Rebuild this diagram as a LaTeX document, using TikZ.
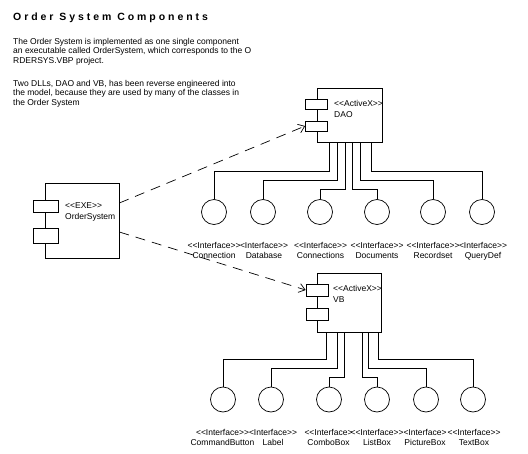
\documentclass[tikz,border=0pt]{standalone}
\usepackage{fontspec}
\setmainfont{Liberation Sans}
\newfontfamily\titlefont{Liberation Sans}[LetterSpace=28]
\usetikzlibrary{arrows.meta}

\begin{document}
\begin{tikzpicture}[x=1pt,y=-1pt,
    every node/.style={font=\fontsize{8.5}{10}\selectfont, inner sep=0pt},
    comp/.style={draw, line width=.7pt},
    port/.style={draw, fill=white, line width=.7pt, minimum width=22pt, minimum height=10pt},
    iface/.style={draw, circle, line width=.7pt, minimum size=25pt},
    lbl/.style={align=center, anchor=north},
    wire/.style={line width=.7pt},
    dep/.style={line width=.7pt, dash pattern=on 10pt off 7pt, -{Straight Barb[length=6pt,width=9pt]}}]
   %\draw[help lines] (0,0) grid (528,453);
    \useasboundingbox (0,0) rectangle (528,453);
    \node[anchor=base west, font=\titlefont\bfseries\fontsize{10.5}{12}\selectfont] (title) at (13,20) {Order System Components};
    \node[anchor=north west, align=left, font=\fontsize{8.5}{9.5}\selectfont] (note1) at (13,38)
      {The Order System is implemented as one single component\\an executable called OrderSystem, which corresponds to the O\\RDERSYS.VBP project.};
    \node[anchor=north west, align=left, font=\fontsize{8.5}{9.5}\selectfont] (note2) at (13,80)
      {Two DLLs, DAO and VB, has been reverse engineered into\\the model, because they are used by many of the classes in\\the Order System};

    % components
    \node[comp, minimum width=74pt, minimum height=75pt] (exe) at (82,220.5) {};
    \node[port, minimum width=25pt, minimum height=12pt] (exe-p1) at (45.5,206) {};
    \node[port, minimum width=25pt, minimum height=15pt] (exe-p2) at (45.5,235.5) {};
    \node[anchor=north west, align=left, font=\fontsize{8.5}{11}\selectfont] (exe-txt) at (65,202) {<{}<EXE>{}>\\OrderSystem};

    \node[comp, minimum width=65pt, minimum height=54pt] (dao) at (349.5,115) {};
    \node[port] (dao-p1) at (316.5,104.3) {};
    \node[port] (dao-p2) at (316.5,126) {};
    \node[anchor=north west, align=left, font=\fontsize{8.5}{11}\selectfont] (dao-txt) at (334,100) {<{}<ActiveX>{}>\\DAO};

    \node[comp, minimum width=64pt, minimum height=59pt] (vb) at (349,302.5) {};
    \node[port, minimum height=12pt] (vb-p1) at (317,290) {};
    \node[port, minimum height=12pt] (vb-p2) at (317,314) {};
    \node[anchor=north west, align=left, font=\fontsize{8.5}{11}\selectfont] (vb-txt) at (333,285) {<{}<ActiveX>{}>\\VB};

    \draw[dep] ([yshift=17.5pt]exe.east) -- (dao-p2.west);
    \draw[dep] ([yshift=-11.5pt]exe.east) -- (vb-p1.west);

    % DAO interfaces
    \node[iface] (connection) at (214,212) {};
    \node[iface] (database) at (263,212) {};
    \node[iface] (connections) at (320,212) {};
    \node[iface] (documents) at (377,212) {};
    \node[iface] (recordset) at (433,212) {};
    \node[iface] (querydef) at (482,212) {};
    \draw[wire] ([xshift=-20.5pt]dao.south) -- ++(0,29) -| (connection.north);
    \draw[wire] ([xshift=-12.5pt]dao.south) -- ++(0,38) -| (database.north);
    \draw[wire] ([xshift=-4.5pt]dao.south) -- ++(0,47) -| (connections.north);
    \draw[wire] ([xshift=2.5pt]dao.south) -- ++(0,47) -| (documents.north);
    \draw[wire] ([xshift=10.5pt]dao.south) -- ++(0,38) -| (recordset.north);
    \draw[wire] ([xshift=21.5pt]dao.south) -- ++(0,29) -| (querydef.north);
    \node[lbl] (connection-l) at (214,242) {<{}<Interface>{}>\\Connection};
    \node[lbl] (database-l) at (264,242) {<Interface>{}>\\Database};
    \node[lbl] (connections-l) at (320.5,242) {<{}<Interface>{}>\\Connections};
    \node[lbl] (documents-l) at (377,242) {<{}<Interface>{}>\\Documents};
    \node[lbl] (recordset-l) at (433,242) {<{}<Interface>{}>\\Recordset};
    \node[lbl] (querydef-l) at (483,242) {<Interface>{}>\\QueryDef};

    % VB interfaces
    \node[iface] (cmdbutton) at (223,399.5) {};
    \node[iface] (label) at (271,399.5) {};
    \node[iface] (combobox) at (329,399.5) {};
    \node[iface] (listbox) at (377,399.5) {};
    \node[iface] (picturebox) at (426,399.5) {};
    \node[iface] (textbox) at (473,399.5) {};
    \draw[wire] ([xshift=-23pt]vb.south) -- ++(0,27) -| (cmdbutton.north);
    \draw[wire] ([xshift=-12pt]vb.south) -- ++(0,36) -| (label.north);
    \draw[wire] ([xshift=-5pt]vb.south) -- ++(0,45) -| (combobox.north);
    \draw[wire] ([xshift=13pt]vb.south) -- ++(0,45) -| (listbox.north);
    \draw[wire] ([xshift=19pt]vb.south) -- ++(0,36) -| (picturebox.north);
    \draw[wire] ([xshift=29pt]vb.south) -- ++(0,27) -| (textbox.north);
    \node[lbl] (cmdbutton-l) at (222.5,429) {<{}<Interface>{}>\\CommandButton};
    \node[lbl] (label-l) at (273,429) {<Interface>{}>\\Label};
    \node[lbl] (combobox-l) at (328.5,429) {<{}<Interface>\\ComboBox};
    \node[lbl] (listbox-l) at (377,429) {<{}<Interface>{}>\\ListBox};
    \node[lbl] (picturebox-l) at (425,429) {<Interface>\\PictureBox};
    \node[lbl] (textbox-l) at (474,429) {<{}<Interface>{}>\\TextBox};
\end{tikzpicture}
\end{document}
